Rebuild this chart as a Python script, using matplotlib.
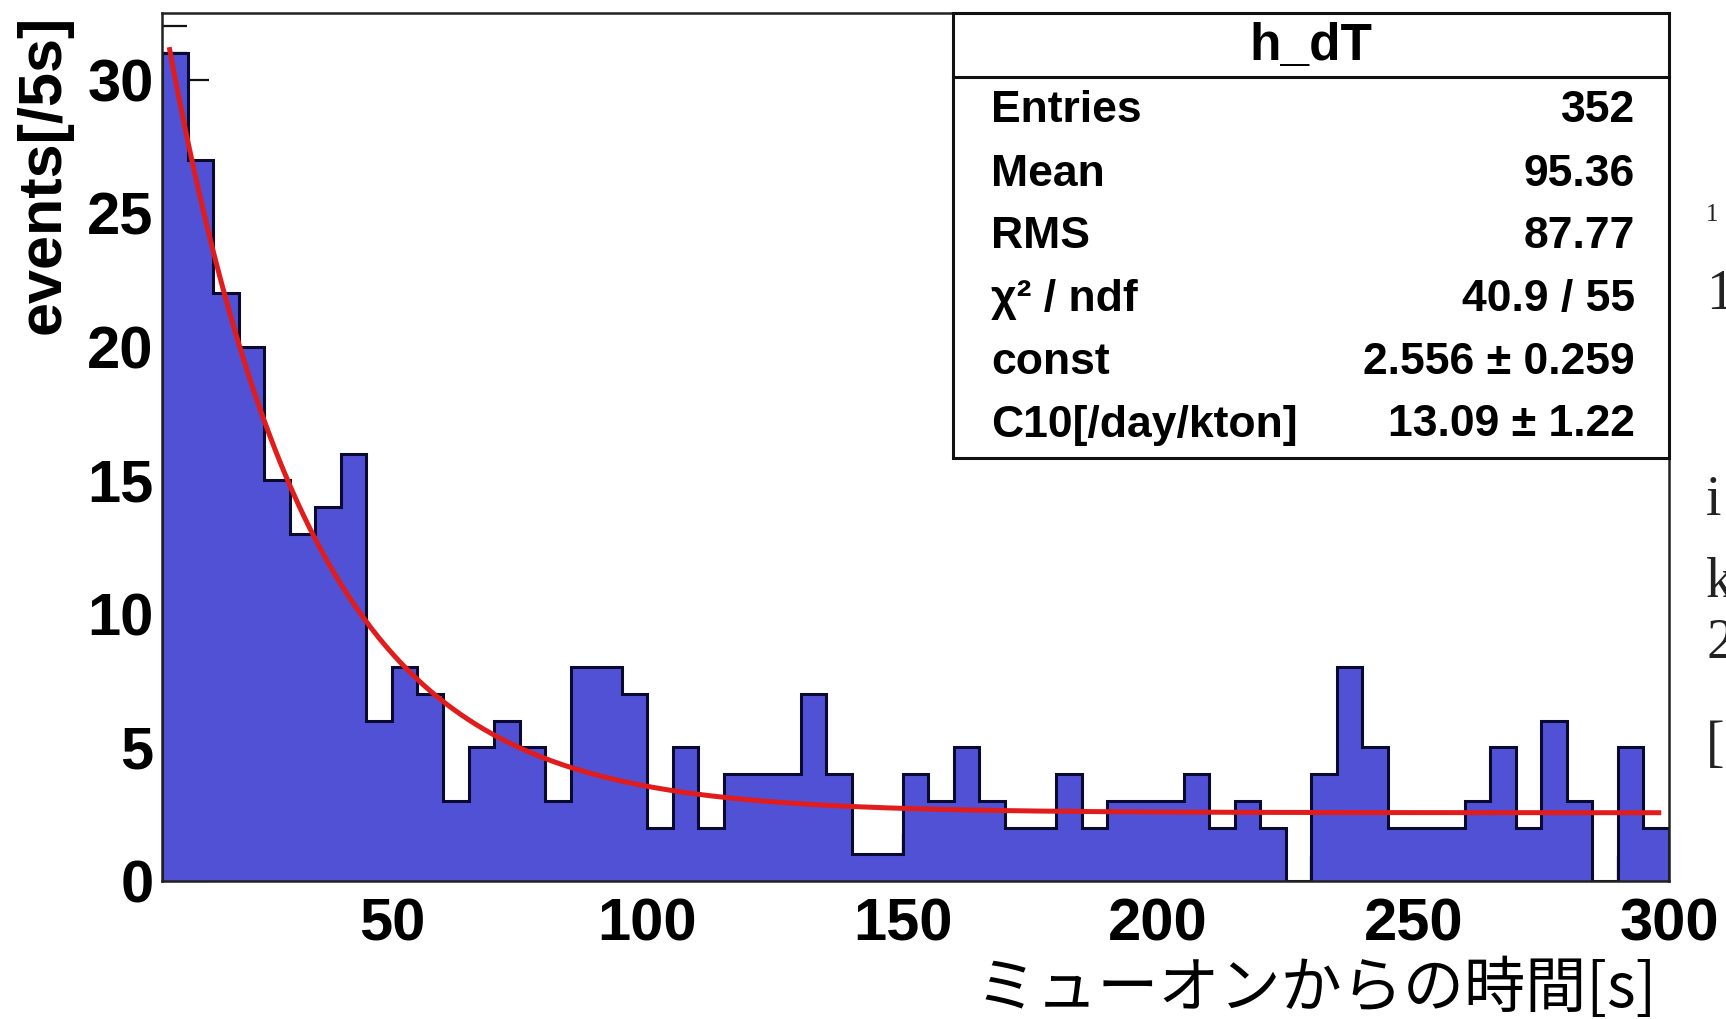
import numpy as np
import matplotlib
matplotlib.use("Agg")
import matplotlib.pyplot as plt
from matplotlib.patches import Rectangle
from matplotlib.ticker import MultipleLocator

# ---- data ----
bin_start = 5
bin_width = 5
counts = [31, 27, 22, 20, 15, 13, 14, 16,
          6, 8, 7, 3, 5, 6, 5, 3,
          8, 8, 7, 2, 5, 2, 4, 4,
          4, 7, 4, 1, 1, 4, 3, 5,
          3, 2, 2, 4, 2, 3, 3, 3,
          4, 2, 3, 2, 0, 4, 8, 5,
          2, 2, 2, 3, 5, 2, 6, 3,
          0, 5, 2]
x_ticks = [50, 100, 150, 200, 250, 300]
y_ticks = [0, 5, 10, 15, 20, 25, 30]
fit_const = 2.556
fit_amp = 36.1
fit_tau = 27.8
fit_range = (6.5, 298.0)
stats_title = "h_dT"
stats_names = ["Entries", "Mean", "RMS", "\u03c7\u00b2 / ndf", "const", "C10[/day/kton]"]
stats_values = ["352", "95.36", "87.77", "40.9 / 55", "2.556 \u00b1 0.259", "13.09 \u00b1 1.22"]
x_title = "ミューオンからの時間[s]"
y_title = "events[/5s]"
side_fragments = ["1", "1", "i", "k", "2", "["]

W, H = 1726, 1019
fig = plt.figure(figsize=(W / 100, H / 100), dpi=100)
fig.patch.set_facecolor("white")

def fx(px):
    return px / W

def fy(py):
    return 1 - py / H

ax_l, ax_r, ax_t, ax_b = 162, 1669, 13, 881
ax = fig.add_axes([fx(ax_l), fy(ax_b), (ax_r - ax_l) / W, (ax_b - ax_t) / H])
ax.set_xlim(5, 300)
ax.set_ylim(0, 32.5)
ax.set_axisbelow(True)

edges = bin_start + bin_width * np.arange(len(counts) + 1)
ax.stairs(counts, edges, fill=True, color="#5151d6", zorder=2)
ax.stairs(counts, edges, fill=False, color="#0a0a30", linewidth=2.2, zorder=3)

t = np.linspace(fit_range[0], fit_range[1], 600)
ax.plot(t, fit_const + fit_amp * np.exp(-t / fit_tau), color="#e01c1c", linewidth=3.6, zorder=4)

tick_font = dict(family="Liberation Sans", weight="bold", size=43)
ax.set_xticks(x_ticks)
ax.set_xticklabels([str(v) for v in x_ticks], fontdict=tick_font)
ax.set_yticks(y_ticks)
ax.set_yticklabels([str(v) for v in y_ticks], fontdict=tick_font)
ax.yaxis.set_minor_locator(MultipleLocator(1))
ax.xaxis.set_minor_locator(MultipleLocator(10))
ax.tick_params(axis="both", which="major", direction="in", length=34, width=1.6, color="#111111")
ax.tick_params(axis="both", which="minor", direction="in", length=18, width=1.6, color="#111111")
ax.tick_params(axis="x", which="major", pad=12)
ax.tick_params(axis="y", which="major", pad=6)
for s in ax.spines.values():
    s.set_linewidth(1.8)
    s.set_color("#222222")
    s.set_zorder(5)

# y title
fig.text(fx(44), fy(15), y_title, rotation=90, ha="center", va="top",
         family="Liberation Sans", weight="bold", fontsize=44)
# x title
fig.text(fx(1657), fy(990), x_title, ha="right", va="center",
         family=["Noto Sans CJK JP", "DejaVu Sans"], fontsize=44)

# stats box
bl, br, bt, bb = 953, 1669, 13, 458
box = Rectangle((fx(bl), fy(bb)), (br - bl) / W, (bb - bt) / H, transform=fig.transFigure,
                facecolor="white", edgecolor="#111111", linewidth=2.2, zorder=10)
fig.add_artist(box)
fig.add_artist(plt.Line2D([fx(bl), fx(br)], [fy(77), fy(77)], transform=fig.transFigure,
                          color="#111111", linewidth=2.2, zorder=11))
fig.text((fx(bl) + fx(br)) / 2, fy(46), stats_title, ha="center", va="center",
         family="Liberation Sans", weight="bold", fontsize=37, zorder=12)
row_y = [111, 174, 237, 299, 363, 425]
for name, val, ry in zip(stats_names, stats_values, row_y):
    fig.text(fx(991), fy(ry), name, ha="left", va="center",
             family=["Liberation Sans", "DejaVu Sans"], weight="bold", fontsize=32, zorder=12)
    fig.text(fx(1635), fy(ry), val, ha="right", va="center",
             family=["Liberation Sans", "DejaVu Sans"], weight="bold", fontsize=32, zorder=12)

# clipped document text fragments at the right edge (cut off in the reference too)
frag_y = [215, 295, 501, 583, 644, 746]
frag_size = [18, 40, 40, 40, 40, 40]
for ch, yy, sz in zip(side_fragments, frag_y, frag_size):
    fig.text(fx(1706), fy(yy), ch, ha="left", va="center",
             family="Liberation Serif", fontsize=sz, color="#222222")

fig.savefig("out.png", dpi=100, facecolor="white")
